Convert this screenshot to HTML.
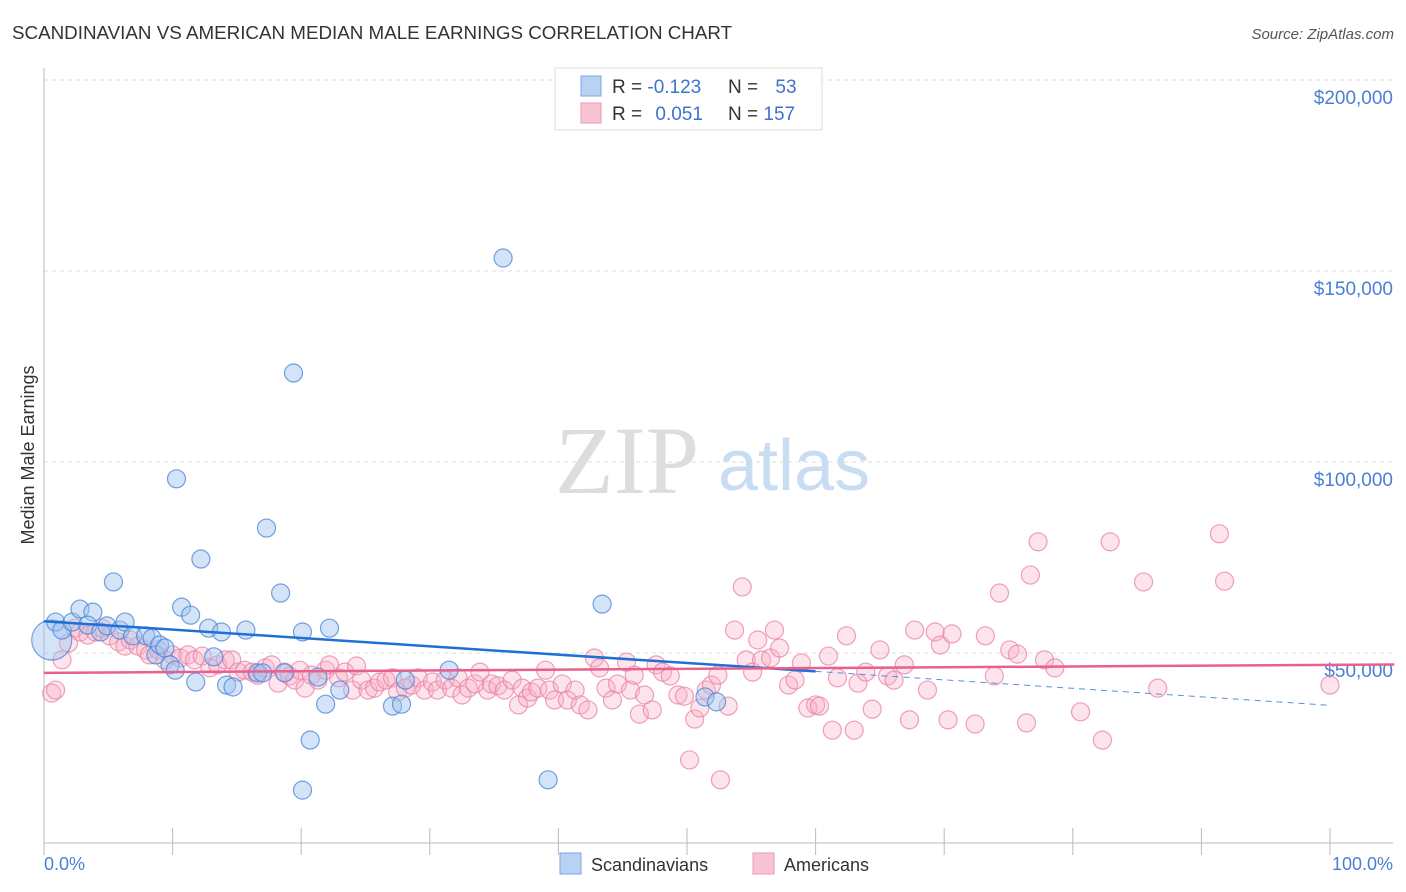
<!DOCTYPE html>
<html><head><meta charset="utf-8">
<style>
body{margin:0;background:#fff;font-family:"Liberation Sans",sans-serif;}
#wrap{position:relative;width:1406px;height:892px;overflow:hidden;}
</style></head>
<body>
<div id="wrap">
<svg id="chart" width="1406" height="892" xmlns="http://www.w3.org/2000/svg">
<text x="12" y="39" font-size="18.8" fill="#333">SCANDINAVIAN VS AMERICAN MEDIAN MALE EARNINGS CORRELATION CHART</text>
<text x="1394" y="39" font-size="15" fill="#555" font-style="italic" text-anchor="end">Source: ZipAtlas.com</text>
<text x="555" y="493" font-size="96" fill="#ddd" font-family="Liberation Serif,serif">ZIP</text>
<text x="718" y="490" font-size="72" fill="#c8dcf2">atlas</text>
<text transform="translate(34,455) rotate(-90)" font-size="18" fill="#333" text-anchor="middle">Median Male Earnings</text>
<g id="grid"></g><g id="axes"></g><g id="pinkPts"></g><g id="bluePts"></g><g id="trends"></g>
<text x="44" y="870" font-size="18" fill="#4a7fd4">0.0%</text>
<text x="1393" y="870" font-size="18" fill="#4a7fd4" text-anchor="end">100.0%</text>
<g>
<rect x="560" y="853" width="21" height="21" fill="#b8d2f4" stroke="#7aa5e0"/>
<text x="591" y="871" font-size="18" fill="#333">Scandinavians</text>
<rect x="753" y="853" width="21" height="21" fill="#f8c4d4" stroke="#e99ab2"/>
<text x="784" y="871" font-size="18" fill="#333">Americans</text>
</g>
<g>
<rect x="555" y="68" width="267" height="62" fill="#fff" stroke="#ddd"/>
<rect x="581" y="76" width="20" height="20" fill="#b8d2f4" stroke="#7aa5e0"/>
<rect x="581" y="103" width="20" height="20" fill="#f8c4d4" stroke="#e99ab2"/>
<text x="612" y="93" font-size="19" fill="#333">R = <tspan fill="#3d73cf">-0.123</tspan></text>
<text x="728" y="93" font-size="19" fill="#333">N = <tspan fill="#3d73cf" dx="12">53</tspan></text>
<text x="612" y="120" font-size="19" fill="#333">R = <tspan fill="#3d73cf" dx="8">0.051</tspan></text>
<text x="728" y="120" font-size="19" fill="#333">N = <tspan fill="#3d73cf">157</tspan></text>
</g>
</svg>
</div>
<script>
const yTicks=[50000,100000,150000,200000];
const yTickLabels=["$50,000","$100,000","$150,000","$200,000"];
const blueX=[0.6,0.9,1.4,2.2,2.8,3.8,3.4,4.4,4.9,5.4,5.9,6.3,6.9,7.9,8.4,8.7,9.0,9.4,9.8,10.3,10.7,11.4,11.8,12.2,12.8,13.2,13.8,14.2,14.7,15.7,16.6,17.3,18.4,18.7,19.4,20.1,20.7,20.1,21.3,21.9,22.2,23.0,27.1,27.8,28.1,31.5,35.7,39.2,43.4,51.4,52.3,17.0,10.2];
const blueY=[53.4,58.1,56.0,58.1,61.5,60.7,57.3,55.5,57.1,68.6,56.0,58.1,54.5,54.5,53.9,49.5,52.1,51.3,46.9,95.6,62.0,59.9,42.4,74.6,56.5,49.0,55.5,41.6,41.1,56.0,44.8,82.7,65.7,44.8,123.3,55.5,27.2,14.1,43.7,36.6,56.5,40.3,36.1,36.6,42.9,45.5,153.4,16.8,62.8,38.5,37.2,44.8,45.5];
const pinkX=[0.6,0.9,1.4,1.9,2.4,2.8,3.4,4.0,4.5,5.1,5.8,6.3,6.7,7.3,7.9,8.2,8.9,9.4,10.0,10.6,11.2,11.7,12.3,12.9,13.5,14.1,14.6,15.1,15.6,16.2,16.6,17.2,17.7,18.2,18.7,19.1,19.5,19.9,20.3,20.8,21.3,21.9,22.2,22.9,23.4,24.0,24.3,24.7,25.2,25.7,26.1,26.6,27.1,27.5,28.1,28.6,29.1,29.6,30.2,30.6,31.2,31.7,32.2,32.5,33.0,33.5,33.9,34.5,34.8,35.3,35.8,36.4,36.9,37.2,37.6,37.9,38.4,39.0,39.3,39.7,40.3,40.7,41.3,41.7,42.3,42.8,43.2,43.7,44.2,44.6,45.3,45.6,45.9,46.3,46.7,47.3,47.6,48.1,48.7,49.3,49.8,50.2,50.6,51.0,51.5,51.9,52.4,52.6,53.2,53.7,54.3,54.6,55.1,55.5,55.8,56.5,56.8,57.2,57.9,58.4,58.9,59.4,60.0,60.3,61.0,61.3,61.7,62.4,63.0,63.3,63.9,64.4,65.0,65.6,66.1,66.9,67.3,67.7,68.7,69.3,69.7,70.3,70.6,72.4,73.2,73.9,74.3,75.1,75.7,76.4,76.7,77.3,77.8,78.6,80.6,82.3,82.9,85.5,86.6,91.4,91.8,100];
const pinkY=[39.5,40.3,48.2,52.6,56.5,55.5,54.7,55.5,56.5,54.5,52.9,51.8,53.4,51.8,50.8,49.5,50.8,48.2,49.5,48.7,49.5,48.2,49.2,46.1,46.9,48.2,48.2,45.0,45.5,45.0,44.2,46.1,46.9,42.1,45.0,44.0,42.9,45.5,40.8,44.2,42.9,45.5,46.9,43.5,45.0,40.3,46.6,42.9,40.3,40.8,42.4,42.9,43.5,39.8,40.8,41.6,43.5,40.3,42.4,40.3,42.9,40.8,43.5,39.0,40.8,41.9,45.0,40.3,41.9,41.4,40.3,42.9,36.4,40.8,38.2,39.8,40.8,45.5,40.3,37.7,41.9,37.7,40.3,36.4,35.1,48.7,46.1,40.8,37.7,41.9,47.6,40.3,44.2,34.0,39.0,35.1,46.9,45.0,44.0,39.0,38.7,22.0,32.7,35.6,40.3,41.6,44.2,16.8,36.1,56.0,67.3,48.2,45.0,53.4,48.2,48.7,56.0,51.3,41.6,42.9,47.4,35.6,36.4,36.1,49.2,29.8,43.5,54.5,29.8,42.1,45.0,35.3,50.8,44.0,42.9,46.9,32.5,56.0,40.3,55.5,52.1,32.5,55.0,31.4,54.5,44.0,65.7,50.8,49.7,31.7,70.4,79.1,48.2,46.1,34.6,27.2,79.1,68.6,40.8,81.2,68.8,41.6];
const blueTrend=[58.3,45.2,36.3]; // at 0%, 60%, 100%
const pinkTrend=[44.8,47.0]; // at 0%, 105%
const NS="http://www.w3.org/2000/svg";
function xs(p){return 44+p*12.86;}
function ys(k){return 653-(k*1000-50000)*191/50000;}
function mk(tag,attrs,parent){const e=document.createElementNS(NS,tag);for(const k in attrs)e.setAttribute(k,attrs[k]);parent.appendChild(e);return e;}
const grid=document.getElementById('grid'),axes=document.getElementById('axes');
const gt=mk('line',{x1:44,x2:1393,y1:80,y2:80,stroke:'#ddd','stroke-dasharray':'4,4'},grid);


yTicks.forEach((v,i)=>{const y=ys(v/1000);
const l=mk('line',{x1:44,x2:1393,y1:y,y2:y,stroke:'#ddd','stroke-dasharray':'4,4'},grid);


const t=mk('text',{x:1393,y:y+24,'font-size':19,fill:'#4a7fd4','text-anchor':'end'},axes);
t.textContent=yTickLabels[i];

});
const ya=mk('line',{x1:44,x2:44,y1:68,y2:843,stroke:'#bbb'},axes);


const xa=mk('line',{x1:44,x2:1393,y1:843,y2:843,stroke:'#bbb'},axes);


for(let i=0;i<=10;i++){const tk=mk('line',{x1:xs(i*10),x2:xs(i*10),y1:828,y2:855,stroke:'#bbb'},axes);

}
const pg=document.getElementById('pinkPts');
pinkX.forEach((x,i)=>{const c=mk('circle',{cx:xs(x),cy:ys(pinkY[i]),r:9,fill:'rgba(248,175,198,0.35)',stroke:'rgba(232,130,165,0.75)','stroke-width':1.2},pg);

});
const bg=document.getElementById('bluePts');
blueX.forEach((x,i)=>{const c=mk('circle',{cx:xs(x),cy:ys(blueY[i]),r:i==0?20:9,fill:'rgba(160,196,240,0.45)',stroke:'rgba(70,130,215,0.75)','stroke-width':1.2},bg);

});
const tg=document.getElementById('trends');
const b1=mk('line',{x1:xs(0),y1:ys(blueTrend[0]),x2:xs(60),y2:ys(blueTrend[1]),stroke:'#1f6fd6','stroke-width':2.5},tg);


const b2=mk('line',{x1:xs(60),y1:ys(blueTrend[1]),x2:xs(100),y2:ys(blueTrend[2]),stroke:'#5b8fd9','stroke-width':1,'stroke-dasharray':'6,5'},tg);


const p1=mk('line',{x1:xs(0),y1:ys(pinkTrend[0]),x2:xs(105),y2:ys(pinkTrend[1]),stroke:'#e8608c','stroke-width':2.5},tg);


</script>
</body></html>
